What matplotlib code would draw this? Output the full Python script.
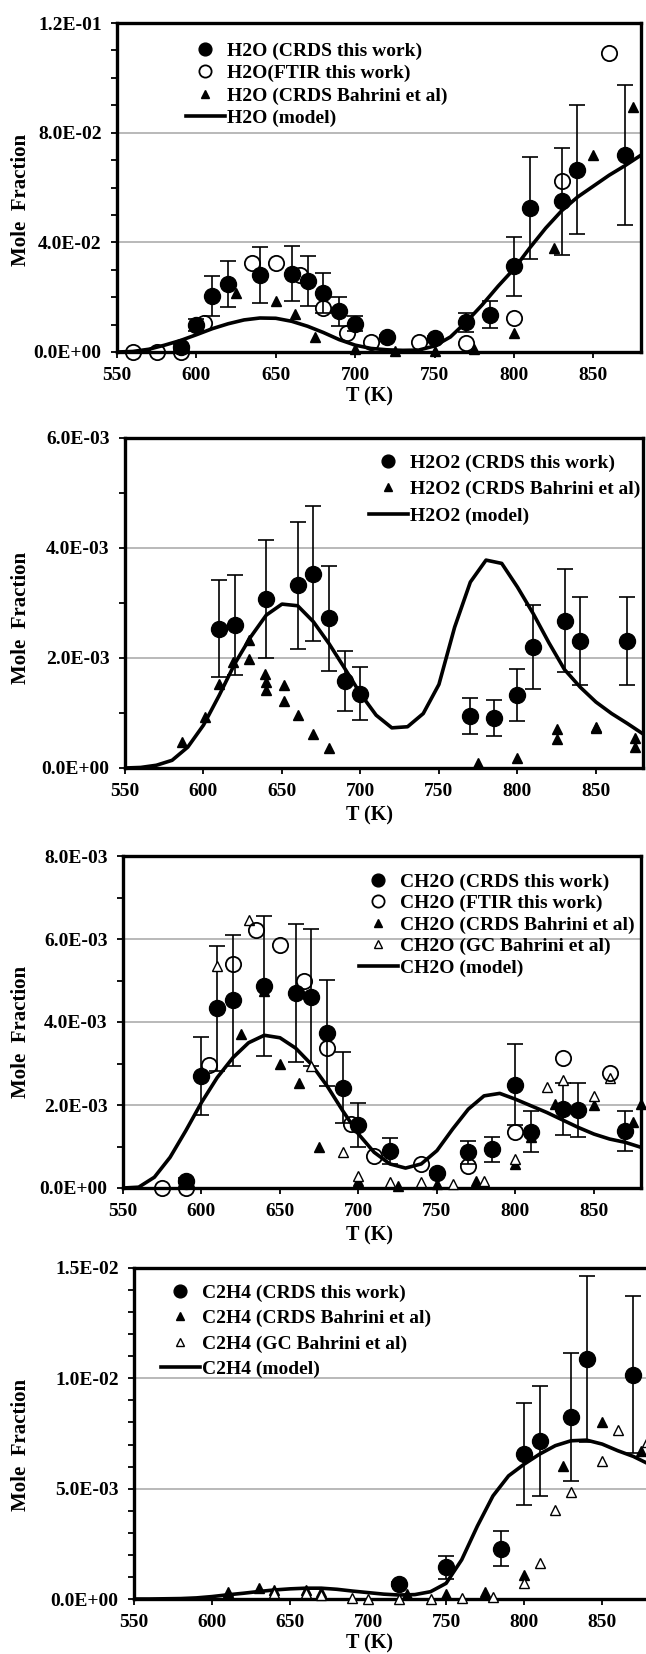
import matplotlib
matplotlib.use("Agg")
import matplotlib.pyplot as plt
from matplotlib.ticker import MultipleLocator, FuncFormatter

plt.rcParams["font.family"] = "Liberation Serif"
plt.rcParams["font.weight"] = "bold"

W, H = 646, 1654
FS = 14

# temperatures of the model curves (same grid for every species)
model_T = [550, 560, 570, 580, 590, 600, 610, 620, 630, 640, 650, 660, 670, 680, 690, 700, 710,
           720, 730, 740, 750, 760, 770, 780, 790, 800, 810, 820, 830, 840, 850, 860, 870, 880]

# --- H2O ---
h2o_crds_T = [590, 600, 610, 620, 640, 660, 670, 680, 690, 700, 720, 750, 770, 785, 800, 810, 830, 840, 870]
h2o_crds = [0.0020, 0.0100, 0.0205, 0.0249, 0.0282, 0.0286, 0.0258, 0.0215, 0.0148, 0.0103, 0.0055,
            0.0051, 0.0108, 0.0136, 0.0312, 0.0525, 0.0550, 0.0665, 0.0720]
h2o_crds_err = [0.0008, 0.0022, 0.0073, 0.0084, 0.0102, 0.0099, 0.0091, 0.0074, 0.0053, 0.0028, 0.0008,
                0.0008, 0.0036, 0.0049, 0.0109, 0.0186, 0.0195, 0.0235, 0.0255]
h2o_ftir_T = [560, 575, 590, 605, 635, 650, 665, 680, 695, 710, 740, 770, 800, 830, 860]
h2o_ftir = [0.0, 0.0, 0.0, 0.0106, 0.0325, 0.0325, 0.0280, 0.0160, 0.0069, 0.0036, 0.0036, 0.0033,
            0.0124, 0.0622, 0.1090]
h2o_bah_T = [625, 650, 662, 675, 700, 725, 750, 775, 800, 825, 850, 875]
h2o_bah = [0.0215, 0.0185, 0.0140, 0.0055, 0.0010, 0.0002, 0.0002, 0.0010, 0.0069, 0.0380, 0.0720, 0.0894]
h2o_model = [0.0, 0.0002, 0.0010, 0.0025, 0.0042, 0.0063, 0.0085, 0.0103, 0.0117, 0.0124, 0.0123, 0.0112,
             0.0094, 0.0071, 0.0045, 0.0025, 0.0013, 0.0008, 0.0006, 0.0007, 0.0022, 0.0055, 0.0110,
             0.0172, 0.0240, 0.0303, 0.0380, 0.0452, 0.0515, 0.0565, 0.0605, 0.0645, 0.0680, 0.0718]

# --- H2O2 (values in 1e-3) ---
h2o2_crds_T = [610, 620, 640, 660, 670, 680, 690, 700, 770, 785, 800, 810, 830, 840, 870]
h2o2_crds = [2.53, 2.60, 3.07, 3.32, 3.53, 2.72, 1.58, 1.35, 0.95, 0.91, 1.33, 2.20, 2.68, 2.30, 2.31]
h2o2_crds_err = [0.88, 0.91, 1.07, 1.16, 1.23, 0.96, 0.55, 0.48, 0.33, 0.32, 0.47, 0.77, 0.94, 0.80, 0.80]
h2o2_bah_T = [586, 601, 610, 619, 629, 629, 639, 640, 640, 651, 651, 660, 670, 680, 775, 800, 825, 825,
              850, 850, 875, 875]
h2o2_bah = [0.47, 0.92, 1.52, 1.93, 2.33, 1.99, 1.71, 1.56, 1.41, 1.50, 1.21, 0.97, 0.61, 0.36, 0.09,
            0.18, 0.70, 0.52, 0.75, 0.72, 0.55, 0.39]
h2o2_model = [0.0, 0.01, 0.05, 0.14, 0.38, 0.78, 1.32, 1.90, 2.38, 2.78, 2.98, 2.95, 2.66, 2.26, 1.81,
              1.35, 0.96, 0.73, 0.75, 0.99, 1.52, 2.56, 3.38, 3.78, 3.72, 3.29, 2.81, 2.28, 1.79, 1.47,
              1.20, 0.99, 0.81, 0.62]

# --- CH2O (values in 1e-3) ---
ch2o_crds_T = [590, 600, 610, 620, 640, 660, 670, 680, 690, 700, 720, 750, 770, 785, 800, 810, 830, 840, 870]
ch2o_crds = [0.18, 2.70, 4.33, 4.52, 4.86, 4.70, 4.60, 3.74, 2.42, 1.52, 0.90, 0.37, 0.86, 0.93, 2.49,
             1.36, 1.90, 1.88, 1.38]
ch2o_crds_err = [0.05, 0.94, 1.50, 1.57, 1.69, 1.66, 1.65, 1.28, 0.85, 0.52, 0.31, 0.05, 0.28, 0.30, 0.98,
                 0.50, 0.63, 0.66, 0.48]
ch2o_ftir_T = [575, 590, 605, 620, 635, 650, 665, 680, 695, 710, 740, 770, 800, 830, 860]
ch2o_ftir = [0.0, 0.0, 2.97, 5.40, 6.22, 5.86, 4.98, 3.38, 1.54, 0.78, 0.58, 0.53, 1.34, 3.14, 2.76]
ch2o_bah_T = [625, 640, 650, 662, 675, 700, 725, 750, 775, 800, 810, 825, 850, 875, 880]
ch2o_bah = [3.72, 4.74, 3.00, 2.54, 0.98, 0.16, 0.06, 0.09, 0.18, 0.58, 1.22, 2.02, 2.00, 1.60, 2.02]
ch2o_gc_T = [610, 630, 670, 690, 700, 720, 740, 760, 780, 800, 820, 830, 850, 860]
ch2o_gc = [5.34, 6.46, 2.94, 0.86, 0.29, 0.14, 0.14, 0.10, 0.18, 0.70, 2.44, 2.60, 2.22, 2.65]
ch2o_model = [0.0, 0.02, 0.26, 0.74, 1.38, 2.06, 2.66, 3.14, 3.50, 3.68, 3.62, 3.37, 2.98, 2.46, 1.86,
              1.30, 0.86, 0.58, 0.48, 0.58, 0.90, 1.42, 1.90, 2.22, 2.28, 2.14, 1.98, 1.82, 1.64, 1.46,
              1.30, 1.18, 1.10, 0.98]

# --- C2H4 (values in 1e-3) ---
c2h4_crds_T = [720, 750, 785, 800, 810, 830, 840, 870]
c2h4_crds = [0.67, 1.43, 2.28, 6.57, 7.17, 8.24, 10.87, 10.17]
c2h4_crds_err = [0.10, 0.51, 0.79, 2.32, 2.50, 2.90, 3.77, 3.57]
c2h4_bah_T = [610, 630, 640, 660, 670, 725, 750, 775, 800, 825, 850, 875]
c2h4_bah = [0.33, 0.49, 0.41, 0.41, 0.33, 0.23, 0.23, 0.30, 1.09, 6.03, 8.00, 6.72]
c2h4_gc_T = [640, 660, 670, 690, 700, 720, 740, 760, 780, 800, 810, 820, 830, 850, 860, 879]
c2h4_gc = [0.26, 0.26, 0.18, 0.03, 0.0, 0.0, 0.0, 0.03, 0.11, 0.74, 1.63, 4.03, 4.85, 6.26, 7.67, 7.13]
c2h4_model = [0.0, 0.0, 0.01, 0.02, 0.05, 0.11, 0.19, 0.26, 0.34, 0.41, 0.46, 0.49, 0.49, 0.44, 0.36,
              0.29, 0.22, 0.18, 0.20, 0.33, 0.71, 1.78, 3.30, 4.67, 5.58, 6.11, 6.57, 6.95, 7.17, 7.20,
              7.02, 6.72, 6.46, 6.11]


def e3(vals):
    return [v * 1e-3 for v in vals]


fig = plt.figure(figsize=(W / 100, H / 100), dpi=100)


def panel(left, top, right, bottom, ymax, major, minor):
    ax = fig.add_axes([left / W, 1 - bottom / H, (right - left) / W, (bottom - top) / H])
    ax.set_xlim(550, 880)
    ax.set_ylim(0, ymax)
    ax.xaxis.set_major_locator(MultipleLocator(50))
    ax.yaxis.set_major_locator(MultipleLocator(major))
    ax.yaxis.set_minor_locator(MultipleLocator(minor))
    ax.yaxis.set_major_formatter(FuncFormatter(lambda v, p: f"{v:.1E}"))
    ax.tick_params(axis="both", which="both", direction="out", width=1.3, length=4, labelsize=FS)
    ax.tick_params(axis="x", pad=7)
    ax.tick_params(axis="y", pad=7)
    ax.tick_params(top=False, right=False)
    for s in ax.spines.values():
        s.set_linewidth(2.4)
    for g in range(1, int(round(ymax / major))):
        ax.axhline(g * major, color="#a6a6a6", lw=1.1, zorder=0)
    return ax


def crds(ax, T, y, err, label):
    ax.errorbar(T, y, yerr=err, fmt="none", ecolor="black", elinewidth=1.2, capsize=5.5, capthick=1.2,
                zorder=3, clip_on=False)
    return ax.plot(T, y, "o", color="black", ms=11.5, label=label, zorder=4, clip_on=False)[0]


def ftir(ax, T, y, label):
    return ax.plot(T, y, "o", mfc="none", mec="black", mew=1.3, ms=11, label=label, zorder=5,
                   clip_on=False)[0]


def bah(ax, T, y, label):
    return ax.plot(T, y, "^", color="black", ms=7.5, label=label, zorder=4, clip_on=False)[0]


def gc(ax, T, y, label):
    return ax.plot(T, y, "^", mfc="white", mec="black", mew=1.0, ms=7.5, label=label, zorder=4,
                   clip_on=False)[0]


def model(ax, y, label):
    return ax.plot(model_T, y, "-", color="black", lw=2.6, label=label, zorder=3)[0]


def legend(ax, handles, x, y_first, spacing):
    ax.legend(handles=handles, loc="upper left", bbox_to_anchor=(x / W, 1 - (y_first - 11) / H),
              bbox_transform=fig.transFigure, frameon=False, fontsize=FS, borderpad=0, borderaxespad=0,
              handlelength=2.0, handletextpad=0.1, labelspacing=spacing, markerscale=0.8)


def labels(ycenter, xlab_y):
    fig.text(21 / W, 1 - ycenter / H, "Mole  Fraction", rotation=90, ha="center", va="center",
             fontsize=15, fontweight="bold")
    fig.text(370 / W, 1 - xlab_y / H, "T (K)", ha="center", va="center", fontsize=14.5, fontweight="bold")


# H2O panel
ax1 = panel(117, 23, 641, 352, 0.12, 0.04, 0.01)
m = model(ax1, h2o_model, "H2O (model)")
a = crds(ax1, h2o_crds_T, h2o_crds, h2o_crds_err, "H2O (CRDS this work)")
b = ftir(ax1, h2o_ftir_T, h2o_ftir, "H2O(FTIR this work)")
c = bah(ax1, h2o_bah_T, h2o_bah, "H2O (CRDS Bahrini et al)")
legend(ax1, [a, b, c, m], 186, 53, 0.25)
labels(200, 396)

# H2O2 panel
ax2 = panel(125, 438, 643, 768, 0.006, 0.002, 0.001)
m = model(ax2, e3(h2o2_model), "H2O2 (model)")
a = crds(ax2, h2o2_crds_T, e3(h2o2_crds), e3(h2o2_crds_err), "H2O2 (CRDS this work)")
c = bah(ax2, h2o2_bah_T, e3(h2o2_bah), "H2O2 (CRDS Bahrini et al)")
legend(ax2, [a, c, m], 369, 465, 0.45)
labels(618, 815)

# CH2O panel
ax3 = panel(123, 856, 641, 1188, 0.008, 0.002, 0.001)
m = model(ax3, e3(ch2o_model), "CH2O (model)")
a = crds(ax3, ch2o_crds_T, e3(ch2o_crds), e3(ch2o_crds_err), "CH2O (CRDS this work)")
b = ftir(ax3, ch2o_ftir_T, e3(ch2o_ftir), "CH2O (FTIR this work)")
c = bah(ax3, ch2o_bah_T, e3(ch2o_bah), "CH2O (CRDS Bahrini et al)")
d = gc(ax3, ch2o_gc_T, e3(ch2o_gc), "CH2O (GC Bahrini et al)")
legend(ax3, [a, b, c, d, m], 359, 884, 0.2)
labels(1032, 1235)

# C2H4 panel
ax4 = panel(134, 1268, 649, 1599, 0.015, 0.005, 0.001)
m = model(ax4, e3(c2h4_model), "C2H4 (model)")
a = crds(ax4, c2h4_crds_T, e3(c2h4_crds), e3(c2h4_crds_err), "C2H4 (CRDS this work)")
c = bah(ax4, c2h4_bah_T, e3(c2h4_bah), "C2H4 (CRDS Bahrini et al)")
d = gc(ax4, c2h4_gc_T, e3(c2h4_gc), "C2H4 (GC Bahrini et al)")
legend(ax4, [a, c, d, m], 161, 1295, 0.4)
labels(1445, 1643)

fig.savefig("out.png", dpi=100)
